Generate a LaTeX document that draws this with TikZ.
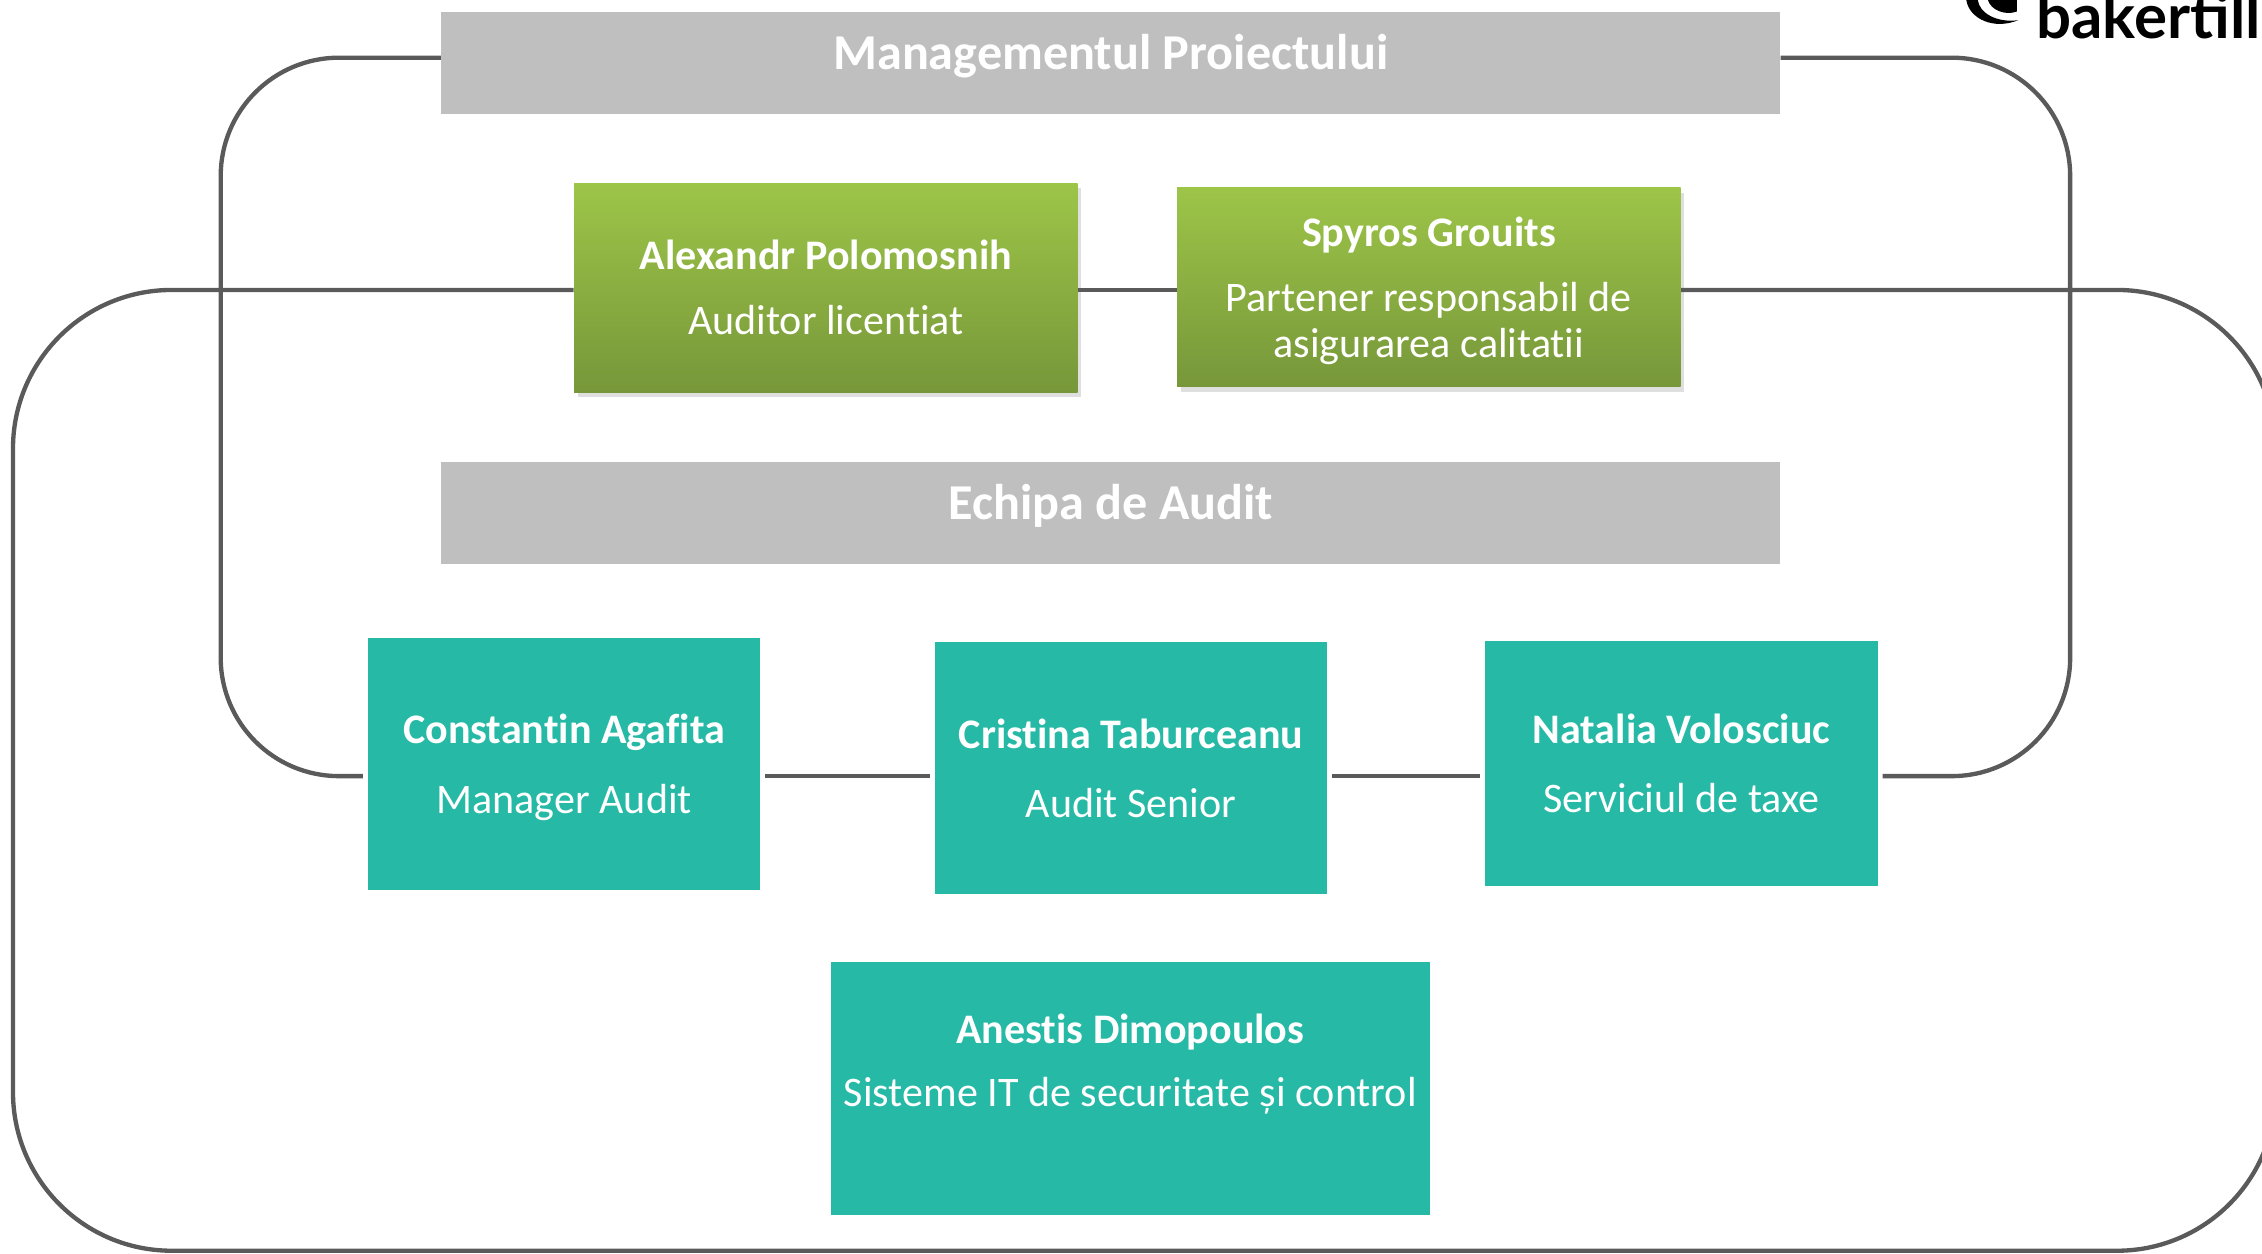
\documentclass[tikz,border=0pt]{standalone}
\usepackage{fontspec}
\setmainfont{Carlito}[Ligatures=NoCommon]
\newfontfamily\logofont{Lato}
\usepackage{tikz}
\usetikzlibrary{positioning,shadows}

\definecolor{barGray}{HTML}{BFBFBF}
\definecolor{lineGray}{HTML}{5A5A5A}
\definecolor{greenTop}{HTML}{9DC548}
\definecolor{greenBot}{HTML}{77973A}
\definecolor{tealFill}{HTML}{25B9A6}

\tikzset{
  bar/.style={fill=barGray, minimum width=185.6mm, minimum height=14.2mm, inner sep=0pt,
    text depth=3.06mm, text=white, font=\fontsize{19.8}{22}\selectfont\bfseries},
  greenbox/.style={top color=greenTop, bottom color=greenBot, minimum width=69.8mm,
    minimum height=29mm, inner sep=0pt, text=white, align=center,
    drop shadow={opacity=0.25, shadow xshift=0.5mm, shadow yshift=-0.7mm},
    font=\fontsize{16.6}{18.2}\selectfont},
  tealbox/.style={fill=tealFill, minimum width=54.4mm, minimum height=35mm, inner sep=0pt,
    outer sep=0.7mm, text=white, align=center, font=\fontsize{16.6}{18.2}\selectfont},
  boxtext/.style={inner sep=0pt, text=white, align=center, font=\fontsize{16.6}{18.2}\selectfont},
  loopline/.style={draw=lineGray, line width=0.6mm, rounded corners=16.4mm},
  link/.style={draw=lineGray, line width=0.6mm},
}

\begin{document}
\begin{tikzpicture}[x=0.2mm, y=-0.2mm]
  \useasboundingbox (0,0) rectangle (1568,869);

  % Gray title bars
  \node[bar] (mgmt) at (770,43.5) {Managementul Proiectului};
  \node[bar] (echipa) at (770,355.5) {Echipa de Audit};

  % Green boxes
  \node[greenbox] (alexandr) at (572.5,199.5)
    {\textbf{Alexandr Polomosnih}\\[7.4pt] Auditor licentiat};
  \node[greenbox, minimum height=27.6mm] (spyros) at (990.5,199)
    {\textbf{Spyros Grouits}\\[7.4pt] Partener responsabil de\\ asi\smash{g}urarea calitatii};

  % Teal boxes
  \node[tealbox] (constantin) at (391,529.5)
    {\textbf{Constantin Agafita}\\[9.1pt] Mana\smash{g}er Audit};
  \node[tealbox] (cristina) at (784,532.5)
    {\textbf{Cristina Taburceanu}\\[9.1pt] Audit Senior};
  \node[tealbox, minimum height=34mm] (natalia) at (1165.5,529)
    {\textbf{Natalia Volosciuc}\\[9.1pt] Serviciul de taxe};
  \node[tealbox, minimum width=83mm] (anestis) at (783.5,754.5) {};
  \node[boxtext, below=7.8mm of anestis.north] (anestistext)
    {\textbf{Anestis Dimopoulos}\\[6.8pt] Sisteme IT de securitate și control};

  % Inner loop (management)
  \draw[loopline] (mgmt.west |- 0,40) -| (153,538) -- (constantin.west |- 0,538);
  \draw[loopline] (mgmt.east |- 0,40) -| (1435,538) -- (natalia.east |- 0,538);
  \draw[link] (constantin.east |- 0,538) -- (cristina.west |- 0,538);
  \draw[link] (cristina.east |- 0,538) -- (natalia.west |- 0,538);

  % Outer loop (partners)
  \draw[loopline, rounded corners=22mm] (alexandr.west |- 0,201) -| (9,867)
    -| (1577.5,201) -- (spyros.east |- 0,201);
  \draw[link] (alexandr.east |- 0,201) -- (spyros.west |- 0,201);

  % Logo
  \fill[black] (1363,0) .. controls (1365,13) and (1382,21) .. (1399,14)
    .. controls (1384,16) and (1372,9) .. (1371,0) -- cycle;
  \fill[black] (1378,0) .. controls (1380,7) and (1390,11) .. (1398,8)
    -- (1398,0) -- cycle;
  \node[font=\logofont\bfseries\fontsize{24.4}{24.4}\selectfont, anchor=base west, inner sep=0pt]
    (logo) at (1411,27) {bakertill};
\end{tikzpicture}
\end{document}
